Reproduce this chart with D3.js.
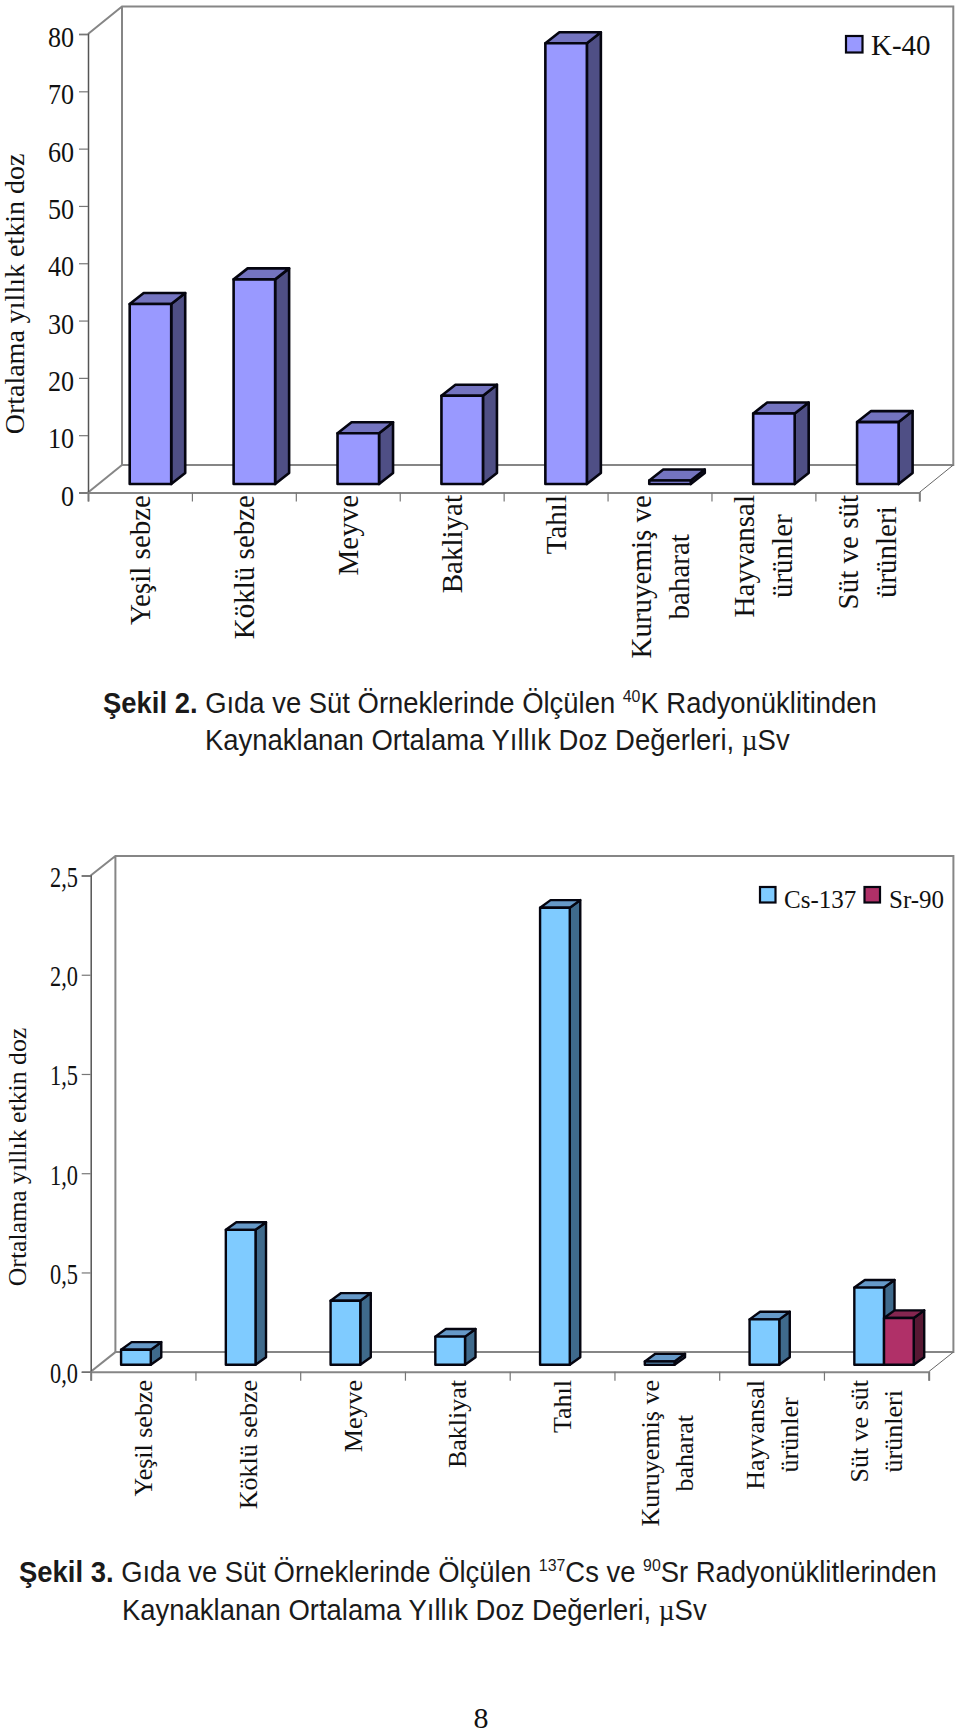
<!DOCTYPE html>
<html><head><meta charset="utf-8">
<style>html,body{margin:0;padding:0;background:#fff}svg{display:block}</style>
<script src="https://d3js.org/d3.v7.min.js"></script></head><body>
<svg id="c" width="960" height="1733"></svg>
<script>
const categories=[["Yeşil sebze"],["Köklü sebze"],["Meyve"],["Bakliyat"],["Tahıl"],["Kuruyemiş ve","baharat"],["Hayvansal","ürünler"],["Süt ve süt","ürünleri"]];
const k40=[31.4,35.7,8.85,15.4,76.9,0.6,12.3,10.8];
const cs137=[0.076,0.68,0.323,0.142,2.303,0.017,0.229,0.389];
const sr90=[0,0,0,0,0,0,0,0.236];
const ticks1=[0,10,20,30,40,50,60,70,80];
const ticks2=[0,0.5,1,1.5,2,2.5];
const yTitle="Ortalama yıllık etkin doz";

const svg=d3.select("#c");
const SERIF="'Liberation Serif','Times New Roman',serif", SANS="'Liberation Sans',Arial,sans-serif";
const GRAY="#868686";
function chart(o){
 const g=svg.append("g");
 const y=d3.scaleLinear().domain(o.domain).range([o.y0,o.yTop]);
 const edge=d3.scaleLinear().domain([0,8]).range([o.x0,o.x1]);
 const band=d3.scaleBand().domain(d3.range(8)).range([o.x0,o.x1]);
 const D=o.depth;
 g.append("path").attr("d",`M${o.x0},${o.yTop}L${o.x0+D[0]},${o.yTop-D[1]}H${o.x1+D[0]}V${o.y0-D[1]}H${o.x0+D[0]}V${o.yTop-D[1]}`).attr("fill","none").attr("stroke",GRAY).attr("stroke-width",2);
 g.append("path").attr("d",`M${o.x0},${o.y0}L${o.x0+D[0]},${o.y0-D[1]}`).attr("stroke",GRAY).attr("stroke-width",2);
 g.append("path").attr("d",`M${o.x1},${o.y0}L${o.x1+D[0]},${o.y0-D[1]}`).attr("stroke","#666").attr("stroke-width",1);
 const ya=g.append("g").attr("transform",`translate(${o.x0},0)`).call(d3.axisLeft(y).tickValues(o.ticks).tickSize(9).tickPadding(0).tickFormat(o.fmt));
 ya.select(".domain").attr("stroke","#555").attr("stroke-width",1.5);
 ya.selectAll(".tick line").attr("stroke","#777").attr("stroke-width",1.2);
 ya.selectAll("text").attr("x",null).attr("dy",null).attr("fill","#111").attr("font-family",SERIF).attr("font-size",o.tickFont)
   .attr("transform",`translate(${o.tickRight-o.x0},${o.tickDy}) scale(${o.tickSx},1)`);
 const xa=g.append("g").attr("transform",`translate(0,${o.y0})`).call(d3.axisBottom(edge).tickValues(d3.range(9)).tickSize(9).tickFormat(""));
 xa.select(".domain").attr("stroke",GRAY).attr("stroke-width",2);
 xa.selectAll(".tick line").attr("stroke","#777").attr("stroke-width",1.2);
 const sh=o.barShift;
 const w=o.barW, gap=(band.bandwidth()-w*o.series.length)/2;
 const bd=o.barDepth, base=o.y0-sh[1];
 o.series.forEach((s,si)=>{
  const bars=g.append("g");
  s.values.forEach((v,i)=>{
   if(!v) return;
   const L=band(i)+gap+sh[0]+w*si, R=L+w, T=base-(y(0)-y(v));
   const b=bars.append("g").attr("stroke","#050510").attr("stroke-width",o.barStroke).attr("stroke-linejoin","round");
   b.append("path").attr("d",`M${R},${T}L${R+bd[0]},${T-bd[1]}V${base-bd[1]}L${R},${base}Z`).attr("fill",s.side);
   b.append("path").attr("d",`M${L},${T}L${L+bd[0]},${T-bd[1]}H${R+bd[0]}L${R},${T}Z`).attr("fill",s.top);
   b.append("rect").attr("x",L).attr("y",T).attr("width",w).attr("height",base-T).attr("fill",s.front);
  });
 });
 categories.forEach((lines,i)=>{
  const cx=band(i)+band.bandwidth()/2;
  const ts=lines.map(t=>g.append("text").text(t).attr("font-family",SERIF).attr("font-size",o.labFont).attr("fill","#111").attr("text-anchor","middle"));
  const len=Math.max(...ts.map(t=>t.node().getComputedTextLength()));
  const cy=o.labTop+len/2;
  ts.forEach((t,j)=>{
   const bx=cx+o.labBase+(lines.length>1?(j-0.5)*o.labLead:0);
   t.attr("transform",`translate(${bx},${cy}) rotate(-90)`);
  });
 });
 g.append("text").text(yTitle).attr("font-family",SERIF).attr("font-size",o.titFont).attr("fill","#111").attr("text-anchor","middle")
  .attr("transform",`translate(${o.titX},${o.titY}) rotate(-90)`);
 o.legend.forEach(l=>{
  g.append("rect").attr("x",l.sx).attr("y",l.sy).attr("width",l.ss).attr("height",l.ss).attr("fill",l.color).attr("stroke","#050510").attr("stroke-width",2.2);
  g.append("text").text(l.name).attr("x",l.tx).attr("y",l.ty).attr("font-family",SERIF).attr("font-size",l.font).attr("fill","#111");
 });
}
function caption(o){
 const t=svg.append("text").attr("font-family",SANS).attr("font-size",o.font).attr("fill","#1a1a1a");
 o.parts.forEach(p=>{
  const s=t.append("tspan").text(p.t);
  if(p.b) s.attr("font-weight","bold");
  if(p.sup) s.attr("font-size",o.font*0.58).attr("dy",-o.font*0.36);
  if(p.after) s.attr("dy",o.font*0.36);
  if(p.mu) s.attr("font-family",SERIF);
 });
 const len=t.node().getComputedTextLength();
 t.attr("transform",`translate(${o.x},${o.y}) scale(${o.w/len},1)`);
}
chart({domain:[0,80],y0:492.5,yTop:34,x0:88,x1:919.3,depth:[34,27.5],ticks:ticks1,fmt:d=>String(d),
 tickFont:30,tickSx:0.87,tickRight:74,tickDy:12.5,
 barW:41.5,barShift:[10.5,8.5],barDepth:[14,11],barStroke:2.6,
 series:[{values:k40,front:"#9999FF",side:"#4F4F85",top:"#7474C0"}],
 labFont:29,labTop:495,labBase:10,labLead:38,
 titFont:28,titX:24,titY:294,
 legend:[{name:"K-40",color:"#9999FF",sx:846,sy:36,ss:16.5,tx:871,ty:55,font:29}]});
chart({domain:[0,2.5],y0:1371.7,yTop:875.5,x0:90.7,x1:928.7,depth:[24.7,19.6],ticks:ticks2,fmt:d=>d3.format(".1f")(d).replace(".",","),
 tickFont:29,tickSx:0.77,tickRight:78,tickDy:11,
 barW:29.7,barShift:[7.7,6.9],barDepth:[10.5,7.6],barStroke:2.4,
 series:[{values:cs137,front:"#7FCBFF",side:"#3F6A8C",top:"#6699C8"},{values:sr90,front:"#B03068",side:"#571833",top:"#852650"}],
 labFont:26,labTop:1380,labBase:9,labLead:34,
 titFont:25.8,titX:26,titY:1157,
 legend:[{name:"Cs-137",color:"#7FCBFF",sx:760,sy:887,ss:15.5,tx:784,ty:908,font:25},{name:"Sr-90",color:"#B03068",sx:864.5,sy:887,ss:15.5,tx:889,ty:908,font:25}]});
caption({x:103,y:713,w:774,font:30,parts:[{t:"Şekil 2. ",b:1},{t:"Gıda ve Süt Örneklerinde Ölçülen "},{t:"40",sup:1},{t:"K Radyonüklitinden",after:1}]});
caption({x:205,y:750,w:585,font:30,parts:[{t:"Kaynaklanan Ortalama Yıllık Doz Değerleri, "},{t:"µ",mu:1},{t:"Sv"}]});
caption({x:19,y:1582,w:918,font:30,parts:[{t:"Şekil 3. ",b:1},{t:"Gıda ve Süt Örneklerinde Ölçülen "},{t:"137",sup:1},{t:"Cs ve ",after:1},{t:"90",sup:1},{t:"Sr Radyonüklitlerinden",after:1}]});
caption({x:122,y:1620,w:585,font:30,parts:[{t:"Kaynaklanan Ortalama Yıllık Doz Değerleri, "},{t:"µ",mu:1},{t:"Sv"}]});
svg.append("text").text("8").attr("x",481).attr("y",1728).attr("text-anchor","middle").attr("font-family",SERIF).attr("font-size",30).attr("fill","#111");
</script></body></html>
